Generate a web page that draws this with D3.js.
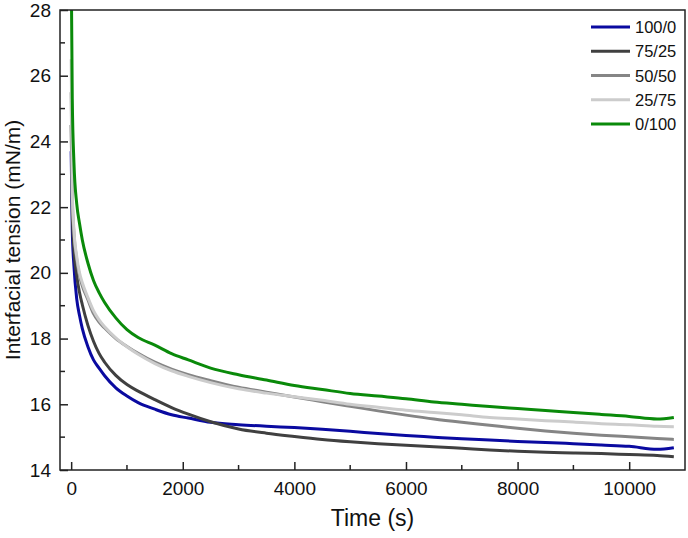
<!DOCTYPE html>
<html>
<head>
<meta charset="utf-8">
<script src="https://cdn.jsdelivr.net/npm/d3@7"></script>
<style>
  body { margin: 0; background: #fff; }
  svg { display: block; font-family: "Liberation Sans", Arial, sans-serif; }
</style>
</head>
<body>
<svg id="chart" width="688" height="538"></svg>
<script>
// data
const times = [0, 20, 50, 100, 150, 200, 300, 400, 500, 600, 800, 1000, 1200, 1500, 1800, 2100, 2500,
  3000, 3500, 4000, 4500, 5000, 5500, 6000, 6500, 7000, 7500, 8000, 8500, 9000, 9500, 10000, 10500, 10800];

const ratio_100_0 = [23.7, 21.3, 20.2, 19.2, 18.7, 18.3, 17.75, 17.35, 17.1, 16.87, 16.5, 16.25, 16.05, 15.85, 15.68, 15.58, 15.45,
  15.38, 15.33, 15.29, 15.24, 15.18, 15.11, 15.05, 15.0, 14.95, 14.91, 14.87, 14.84, 14.8, 14.76, 14.72, 14.63, 14.68];
const ratio_75_25 = [24.5, 21.8, 20.7, 19.9, 19.4, 19.03, 18.4, 17.92, 17.55, 17.28, 16.88, 16.6, 16.4, 16.14, 15.9, 15.7, 15.47,
  15.25, 15.12, 15.02, 14.93, 14.86, 14.8, 14.75, 14.71, 14.66, 14.61, 14.57, 14.54, 14.52, 14.5, 14.47, 14.44, 14.4];
const ratio_50_50 = [25.5, 22.3, 21.2, 20.4, 19.9, 19.6, 19.18, 18.76, 18.5, 18.32, 18.0, 17.76, 17.55, 17.28, 17.07, 16.9, 16.72,
  16.52, 16.37, 16.22, 16.08, 15.94, 15.8, 15.67, 15.55, 15.45, 15.36, 15.27, 15.19, 15.12, 15.06, 15.01, 14.96, 14.93];
const ratio_25_75 = [26.5, 22.5, 21.3, 20.5, 20.0, 19.7, 19.25, 18.85, 18.57, 18.36, 18.02, 17.75, 17.52, 17.24, 17.02, 16.85, 16.66,
  16.47, 16.34, 16.23, 16.12, 16.0, 15.91, 15.82, 15.75, 15.68, 15.6, 15.55, 15.5, 15.46, 15.41, 15.38, 15.33, 15.32];
const ratio_0_100 = [29.5, 25.3, 23.35, 22.1, 21.5, 21.0, 20.3, 19.77, 19.4, 19.1, 18.63, 18.27, 18.03, 17.8, 17.54, 17.35, 17.1,
  16.9, 16.74, 16.57, 16.45, 16.33, 16.25, 16.17, 16.07, 16.0, 15.93, 15.87, 15.81, 15.75, 15.69, 15.63, 15.55, 15.6];

const seriesNames = ['100/0', '75/25', '50/50', '25/75', '0/100'];
const seriesValues = [ratio_100_0, ratio_75_25, ratio_50_50, ratio_25_75, ratio_0_100];
const seriesColors = ['#0a0aa0', '#404040', '#858585', '#cccccc', '#0a8a0a'];

const xTicks = [0, 2000, 4000, 6000, 8000, 10000];
const yTicks = [14, 16, 18, 20, 22, 24, 26, 28];

// layout
const area = { left: 60, right: 685, top: 10, bottom: 470 };
const svg = d3.select('#chart');

const x = d3.scaleLinear().domain([-200, 11000]).range([area.left, area.right]);
const y = d3.scaleLinear().domain([14, 28]).range([area.bottom, area.top]);

svg.append('defs').append('clipPath').attr('id', 'clip')
  .append('rect')
  .attr('x', area.left).attr('y', area.top)
  .attr('width', area.right - area.left).attr('height', area.bottom - area.top);

// lines
const line = d3.line()
  .x(d => x(d[0]))
  .y(d => y(d[1]))
  .curve(d3.curveMonotoneX);

const plot = svg.append('g').attr('clip-path', 'url(#clip)');
seriesValues.forEach((vals, i) => {
  plot.append('path')
    .datum(times.map((t, j) => [t, vals[j]]))
    .attr('fill', 'none')
    .attr('stroke', seriesColors[i])
    .attr('stroke-width', 3)
    .attr('stroke-linejoin', 'round')
    .attr('d', line);
});

// axes, ticks pointing inward
const xMinor = d3.range(1000, 11000, 2000);
const yMinor = d3.range(15, 28, 2);

const xAxis = svg.append('g').attr('transform', `translate(0,${area.bottom})`)
  .call(d3.axisBottom(x).tickValues(xTicks).tickSizeInner(-8).tickSizeOuter(0).tickPadding(12).tickFormat(d3.format('d')));
svg.append('g').selectAll('line').data(xMinor).enter().append('line')
  .attr('x1', d => x(d)).attr('x2', d => x(d))
  .attr('y1', area.bottom).attr('y2', area.bottom - 5)
  .attr('stroke', '#222').attr('stroke-width', 1.5);

const yAxis = svg.append('g').attr('transform', `translate(${area.left},0)`)
  .call(d3.axisLeft(y).tickValues(yTicks).tickSizeInner(-8).tickSizeOuter(0).tickPadding(9));
svg.append('g').selectAll('line').data(yMinor).enter().append('line')
  .attr('x1', area.left).attr('x2', area.left + 5)
  .attr('y1', d => y(d)).attr('y2', d => y(d))
  .attr('stroke', '#222').attr('stroke-width', 1.5);

[xAxis, yAxis].forEach(a => {
  a.select('.domain').remove();
  a.selectAll('.tick line').attr('stroke', '#222').attr('stroke-width', 1.5);
  a.selectAll('.tick text').attr('fill', '#111').style('font-size', '19px');
});

// frame
svg.append('rect')
  .attr('x', area.left).attr('y', area.top)
  .attr('width', area.right - area.left).attr('height', area.bottom - area.top)
  .attr('fill', 'none').attr('stroke', '#222').attr('stroke-width', 1.5);

// axis titles
svg.append('text')
  .attr('x', (area.left + area.right) / 2).attr('y', 526)
  .attr('text-anchor', 'middle')
  .style('font-size', '23px').attr('fill', '#111')
  .text('Time (s)');

svg.append('text')
  .attr('transform', `translate(20,${(area.top + area.bottom) / 2}) rotate(-90)`)
  .attr('text-anchor', 'middle')
  .style('font-size', '21px').attr('fill', '#111')
  .text('Interfacial tension (mN/m)');

// legend
const legendY = d3.scalePoint().domain(seriesNames).range([27, 124]);
const legend = svg.append('g');
legend.selectAll('line').data(seriesNames).enter().append('line')
  .attr('x1', 591).attr('x2', 630)
  .attr('y1', d => legendY(d)).attr('y2', d => legendY(d))
  .attr('stroke', (d, i) => seriesColors[i]).attr('stroke-width', 3);
legend.selectAll('text').data(seriesNames).enter().append('text')
  .attr('x', 635).attr('y', d => legendY(d) + 6)
  .style('font-size', '16.5px').attr('fill', '#111')
  .text(d => d);
</script>
</body>
</html>
